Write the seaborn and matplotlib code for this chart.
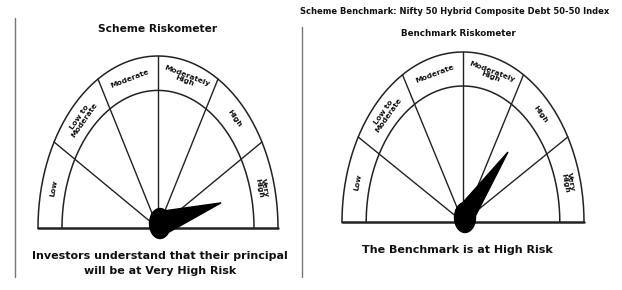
import numpy as np
import pandas as pd
import matplotlib
matplotlib.use("Agg")
import matplotlib.pyplot as plt
import seaborn as sns
from matplotlib.patches import Ellipse, Polygon

# Data
levels = ["Low", "Low to\nModerate", "Moderate", "Moderately\nHigh", "High", "Very\nHigh"]
needle_pos = [5.55, 4.45]  # position along the dial, in segments from the left
titles = [["Scheme Riskometer"],
          ["Scheme Benchmark: Nifty 50 Hybrid Composite Debt 50-50 Index", "Benchmark Riskometer"]]
captions = [["Investors understand that their principal", "will be at Very High Risk"],
            ["The Benchmark is at High Risk"]]

sns.set_theme(style="white")
plt.rcParams['font.family'] = ['DejaVu Sans']

fig = plt.figure(figsize=(6.22, 2.90), dpi=100)
ax = fig.add_axes([0, 0, 1, 1])
ax.set_xlim(0, 622)
ax.set_ylim(290, 0)
ax.axis("off")

# gauge placement: centre x, centre y, x-radius, y-radius (pixels)
gauges = [(158, 228, 120, 172), (463, 222, 121, 170)]
inner = 0.8
ink = "#222222"


def to_px(g, ux, uy):
    cx, cy, sx, sy = g
    return cx + np.asarray(ux) * sx, cy - np.asarray(uy) * sy


def draw_gauge(g, pos):
    n = len(levels)
    cx, cy, sx, sy = g
    th = np.linspace(0, np.pi, 200)
    for r in (1.0, inner):
        x, y = to_px(g, r * np.cos(th), r * np.sin(th))
        arc = pd.DataFrame({"x": x, "y": y})
        sns.lineplot(data=arc, x="x", y="y", ax=ax, sort=False, estimator=None,
                     color=ink, lw=1.1)
    # base line
    x, y = to_px(g, [-1, 1], [0, 0])
    ax.plot(x, y, color=ink, lw=1.8)
    # sector dividers
    for k in range(1, n):
        a = np.pi * (1 - k / n)
        x, y = to_px(g, [0, np.cos(a)], [0, np.sin(a)])
        ax.plot(x, y, color=ink, lw=1.0)
    # labels in the band, following the arc
    rm = (1 + inner) / 2
    for k, lab in enumerate(levels):
        a = np.pi * (1 - (k + 0.5) / n)
        x, y = to_px(g, rm * np.cos(a), rm * np.sin(a))
        rot = np.degrees(np.arctan2(-sy * np.cos(a), sx * np.sin(a)))
        ax.text(x, y, lab, rotation=rot, rotation_mode="anchor", ha="center", va="center",
                fontsize=5.4, fontweight="bold", color="#111111", linespacing=0.95)
    # needle
    a = np.pi * (1 - pos / n)
    L, w = 0.54, 0.075
    px, py = -np.sin(a), np.cos(a)
    pts = np.array([[w * px, w * py + 0.02], [-w * px, -w * py + 0.02],
                    [L * np.cos(a), L * np.sin(a) + 0.02]])
    xs, ys = to_px(g, pts[:, 0], pts[:, 1])
    ax.add_patch(Polygon(np.column_stack([xs, ys]), closed=True, color="black", zorder=5))
    ax.add_patch(Ellipse((cx + 2, cy - 4.5), 21, 30, color="black", zorder=6))


for g, p in zip(gauges, needle_pos):
    draw_gauge(g, p)

# titles
ax.text(158, 29, titles[0][0], ha="center", va="center", fontsize=7.7, fontweight="bold", color="#111111")
ax.text(455, 12, titles[1][0], ha="center", va="center", fontsize=6.0, fontweight="bold",
        color="#111111")
ax.text(458, 33, titles[1][1], ha="center", va="center", fontsize=6.3, fontweight="bold", color="#111111")

# captions
ax.text(160, 256, captions[0][0], ha="center", va="center", fontsize=8.0, fontweight="bold", color="#111111")
ax.text(160, 271, captions[0][1], ha="center", va="center", fontsize=8.0, fontweight="bold", color="#111111")
ax.text(457, 250, captions[1][0], ha="center", va="center", fontsize=8.0, fontweight="bold", color="#111111")

# separators
ax.plot([15, 15], [18, 277], color="#777777", lw=1.0)
ax.plot([302, 302], [27, 277], color="#777777", lw=1.0)

fig.savefig("out.png", dpi=100)
